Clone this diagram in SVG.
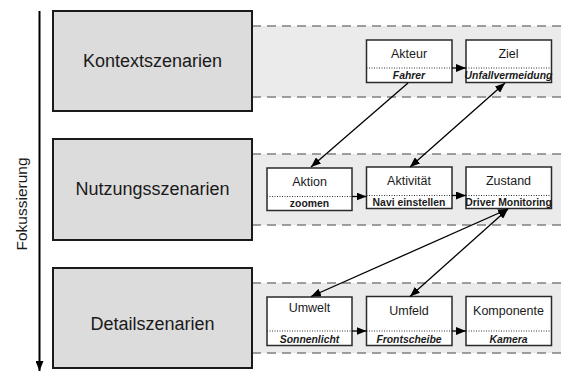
<svg xmlns="http://www.w3.org/2000/svg" width="561" height="372" viewBox="0 0 561 372">
<defs>
<marker id="ah" viewBox="0 0 10 8" refX="10" refY="4" markerWidth="10" markerHeight="8" markerUnits="userSpaceOnUse" orient="auto-start-reverse">
<path d="M0,0 L10,4 L0,8 Z" fill="#000"/>
</marker>
</defs>
<style>
.big{fill:#dcdcdc;stroke:#1a1a1a;stroke-width:2}
.band{fill:#ebebeb;stroke:none}
.dash{stroke:#808080;stroke-width:1.5;stroke-dasharray:9,6;fill:none}
.box{fill:#fff;stroke:#2a2a2a;stroke-width:1.5}
.div{stroke:#333;stroke-width:1;stroke-dasharray:1,1.5}
.bl{font-family:"Liberation Sans",Arial,sans-serif;font-size:18px;fill:#1a1a1a;text-anchor:middle}
.t{font-family:"Liberation Sans",Arial,sans-serif;font-size:12.5px;fill:#1a1a1a;text-anchor:middle}
.s{font-family:"Liberation Sans",Arial,sans-serif;font-size:10.4px;font-weight:bold;fill:#1a1a1a;text-anchor:middle}
.i{font-style:italic}
.c{stroke:#000;stroke-width:1.3;fill:none}
</style>
<g id="bands">
<rect class="band" x="252" y="26" width="309" height="71"/>
<line class="dash" x1="252" y1="26" x2="561" y2="26"/>
<line class="dash" x1="252" y1="97" x2="561" y2="97"/>
<rect class="band" x="252" y="154" width="309" height="71"/>
<line class="dash" x1="252" y1="154" x2="561" y2="154"/>
<line class="dash" x1="252" y1="225" x2="561" y2="225"/>
<rect class="band" x="252" y="283" width="309" height="70"/>
<line class="dash" x1="252" y1="283" x2="561" y2="283"/>
<line class="dash" x1="252" y1="353" x2="561" y2="353"/>
</g>
<g id="axis">
<line x1="39.5" y1="11" x2="39.5" y2="371" stroke="#000" stroke-width="2" marker-end="url(#ah)"/>
<text transform="translate(26.5,204) rotate(-90)" class="bl" style="font-size:15.5px">Fokussierung</text>
</g>
<g id="kontext">
<rect class="big" x="53" y="11" width="199" height="100"/>
<text class="bl" x="152.5" y="67">Kontextszenarien</text>
</g>
<g id="nutzung">
<rect class="big" x="53" y="139" width="199" height="101"/>
<text class="bl" x="152.5" y="195">Nutzungsszenarien</text>
</g>
<g id="detail">
<rect class="big" x="53" y="268" width="199" height="100"/>
<text class="bl" x="152.5" y="330">Detailszenarien</text>
</g>
<g id="akteur">
<rect class="box" x="366.5" y="40" width="85.5" height="42.5"/>
<line class="div" x1="366.5" y1="68" x2="452" y2="68"/>
<text class="t" x="409" y="58">Akteur</text>
<text class="s i" x="409" y="78.5">Fahrer</text>
</g>
<g id="ziel">
<rect class="box" x="466" y="40" width="85.5" height="42.5"/>
<line class="div" x1="466" y1="68" x2="551.5" y2="68"/>
<text class="t" x="508.5" y="58">Ziel</text>
<text class="s i" x="508.5" y="78.5">Unfallvermeidung</text>
</g>
<g id="aktion">
<rect class="box" x="267" y="168" width="85" height="42.5"/>
<line class="div" x1="267" y1="196.5" x2="352" y2="196.5"/>
<text class="t" x="309.5" y="186">Aktion</text>
<text class="s" x="309.5" y="206.5">zoomen</text>
</g>
<g id="aktivitaet">
<rect class="box" x="366.5" y="167" width="85.5" height="41.5"/>
<line class="div" x1="366.5" y1="195.5" x2="452" y2="195.5"/>
<text class="t" x="409" y="184.5">Aktivität</text>
<text class="s" x="409" y="205.5">Navi einstellen</text>
</g>
<g id="zustand">
<rect class="box" x="466" y="167" width="85.5" height="41.5"/>
<line class="div" x1="466" y1="195.5" x2="551.5" y2="195.5"/>
<text class="t" x="508.5" y="185">Zustand</text>
<text class="s" x="508.5" y="205.5">Driver Monitoring</text>
</g>
<g id="umwelt">
<rect class="box" x="267" y="297" width="85" height="48.5"/>
<line class="div" x1="267" y1="331" x2="352" y2="331"/>
<text class="t" x="309.5" y="312">Umwelt</text>
<text class="s i" x="309.5" y="342.5">Sonnenlicht</text>
</g>
<g id="umfeld">
<rect class="box" x="366.5" y="296.5" width="85.5" height="49"/>
<line class="div" x1="366.5" y1="331" x2="452" y2="331"/>
<text class="t" x="409" y="315">Umfeld</text>
<text class="s i" x="409" y="342.5">Frontscheibe</text>
</g>
<g id="komponente">
<rect class="box" x="466" y="296.5" width="85.5" height="49"/>
<line class="div" x1="466" y1="331" x2="551.5" y2="331"/>
<text class="t" x="508.5" y="315">Komponente</text>
<text class="s i" x="508.5" y="342.5">Kamera</text>
</g>
<g id="connectors">
<line class="c" x1="452" y1="68" x2="466" y2="68" marker-end="url(#ah)"/>
<line class="c" x1="352" y1="196.5" x2="366.5" y2="196.5" marker-end="url(#ah)"/>
<line class="c" x1="452" y1="195.5" x2="466" y2="195.5" marker-end="url(#ah)"/>
<line class="c" x1="352" y1="331" x2="366.5" y2="331" marker-end="url(#ah)"/>
<line class="c" x1="452" y1="331" x2="466" y2="331" marker-end="url(#ah)"/>
<line class="c" x1="408" y1="83" x2="311" y2="167" marker-end="url(#ah)"/>
<line class="c" x1="505" y1="83" x2="410" y2="167" marker-start="url(#ah)" marker-end="url(#ah)"/>
<line class="c" x1="508" y1="209" x2="311" y2="296.5" marker-start="url(#ah)" marker-end="url(#ah)"/>
<line class="c" x1="508" y1="209" x2="410" y2="296.5" marker-start="url(#ah)" marker-end="url(#ah)"/>
</g>
</svg>
